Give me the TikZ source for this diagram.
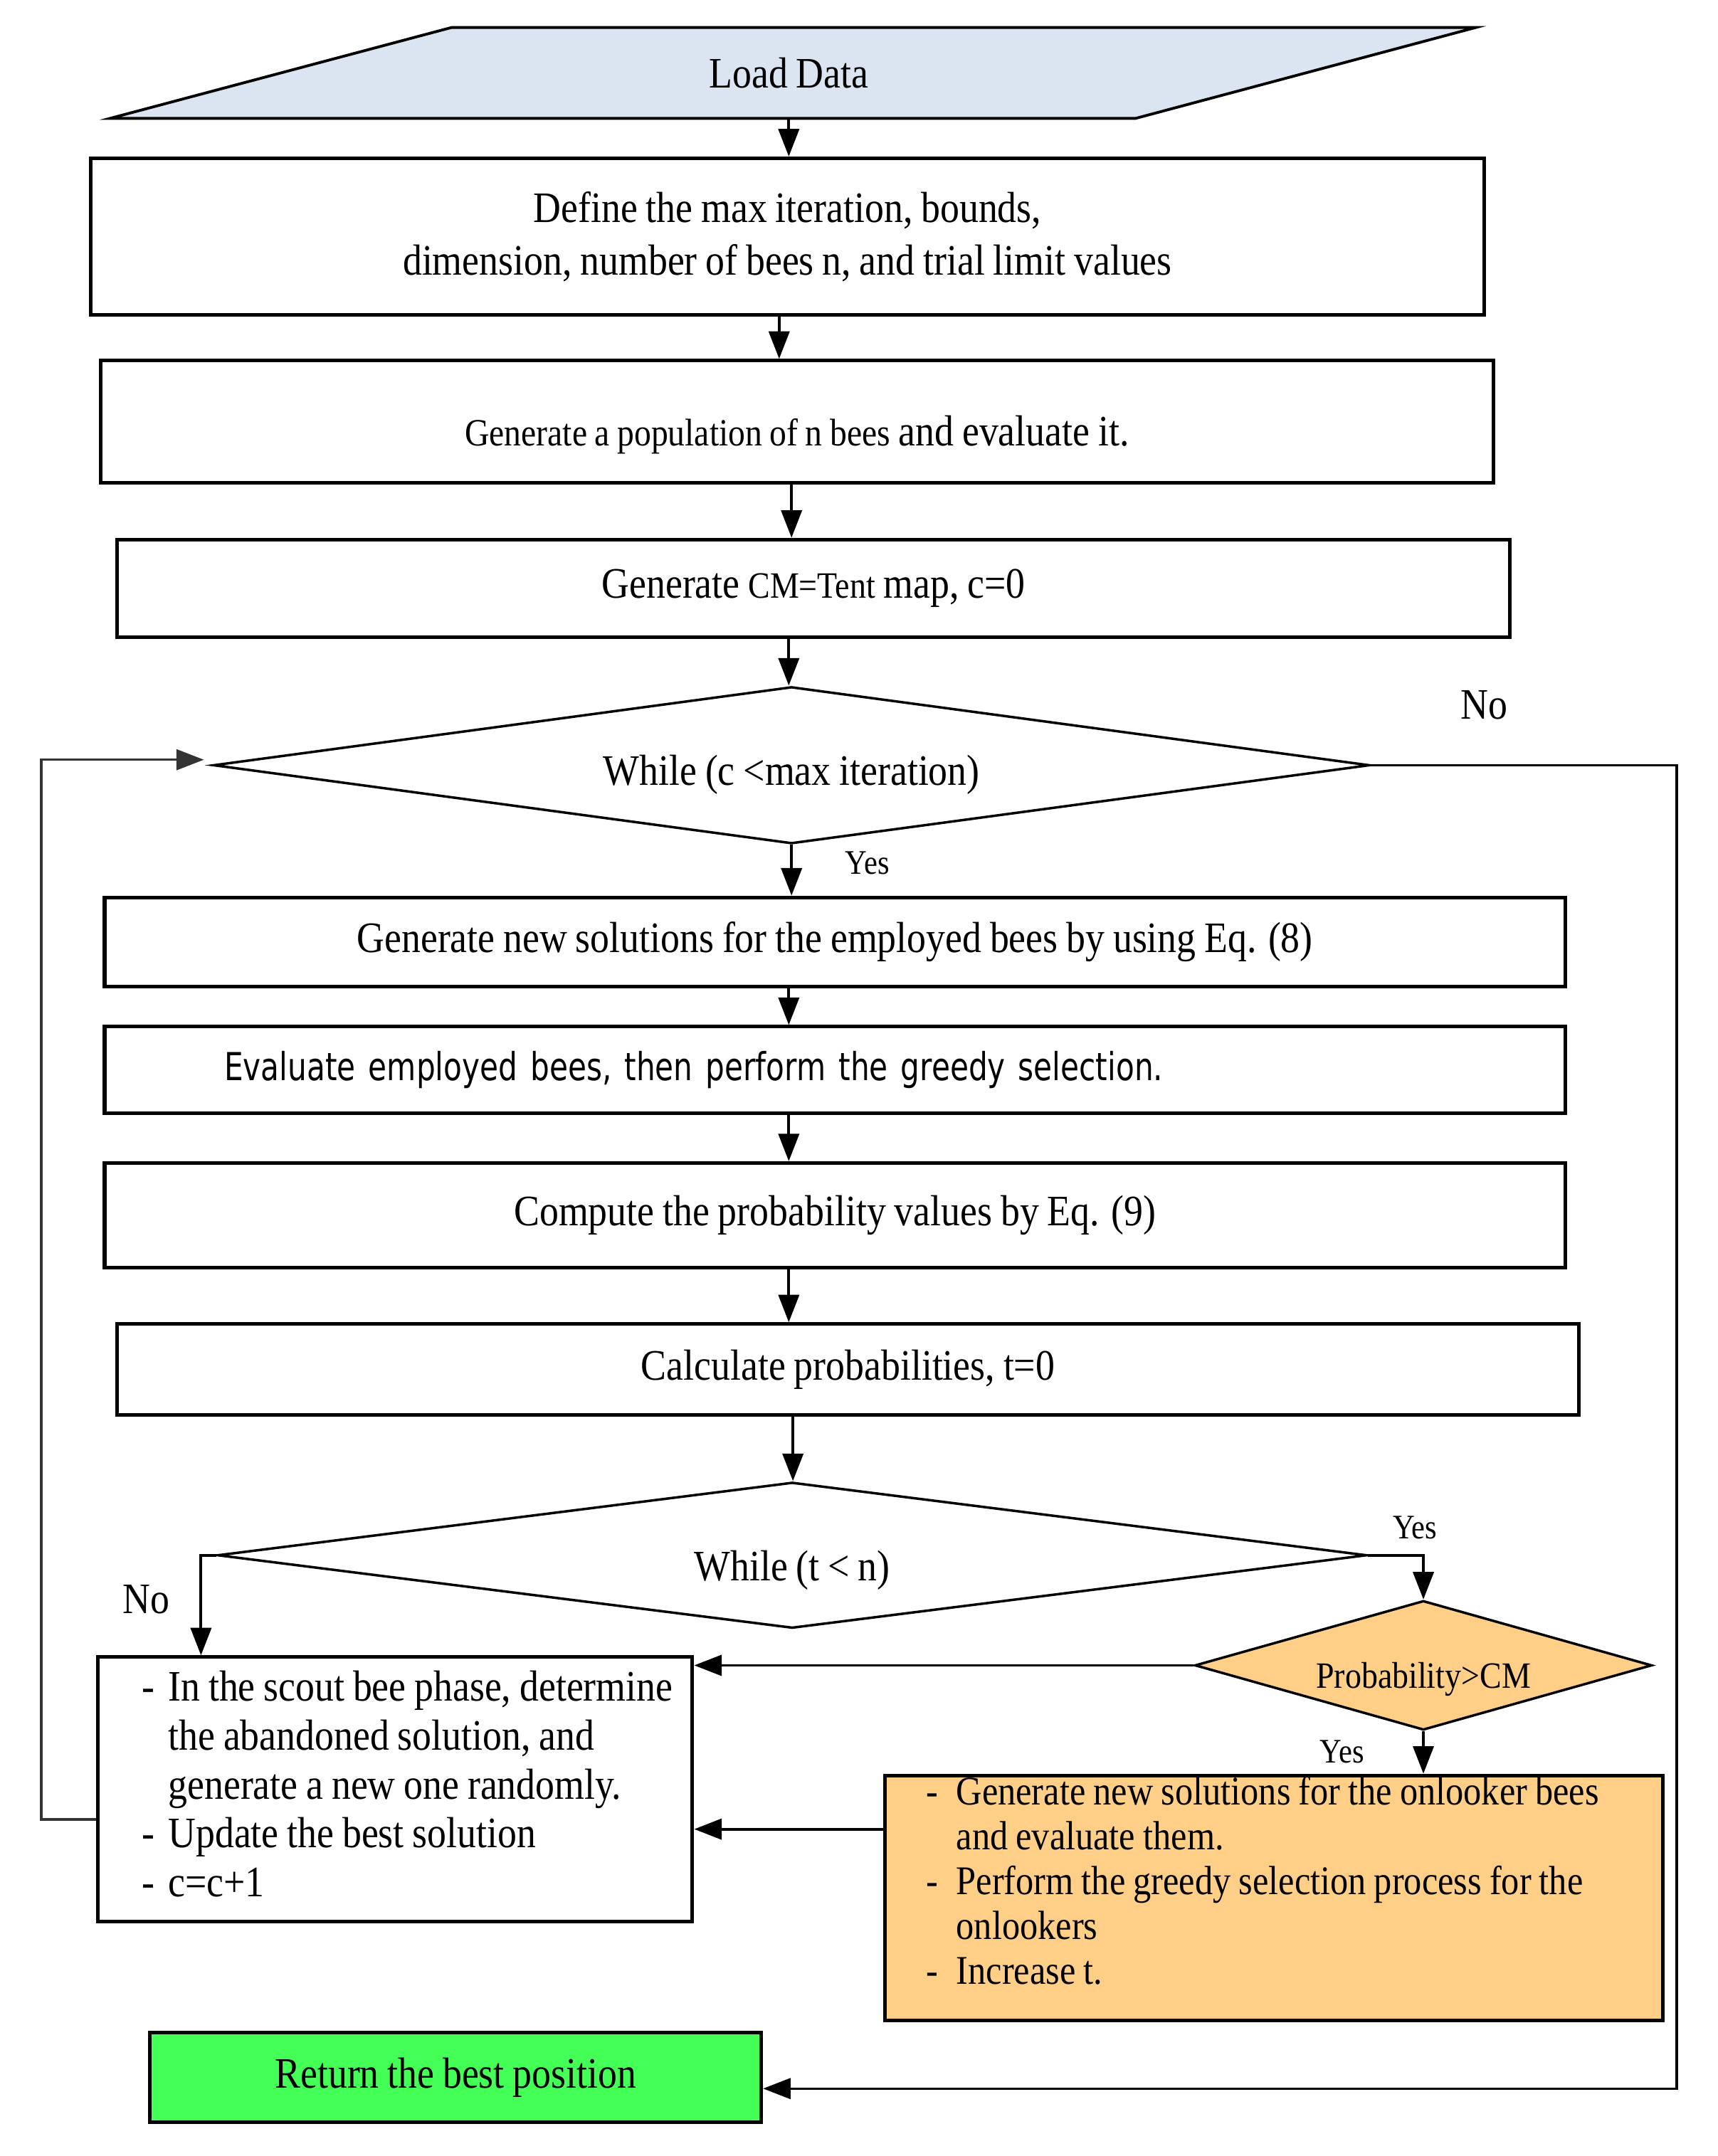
\documentclass[tikz,border=0pt]{standalone}
\usepackage{fontspec}
\setmainfont{Liberation Serif}[FakeStretch=0.88,WordSpace=0.88]
\newfontfamily\evalfont{DejaVu Sans}[FakeStretch=0.78,WordSpace=0.85]
\usetikzlibrary{shapes.geometric,arrows.meta}
\definecolor{ldblue}{RGB}{219,229,241}
\definecolor{onorange}{RGB}{255,207,136}
\definecolor{retgreen}{RGB}{68,255,85}
\newcommand{\movetext}[2]{\raisebox{#1}[\height][\depth]{#2}}
\begin{document}
\begin{tikzpicture}[x=0.5pt,y=-0.5pt,
  box/.style={draw, line width=1.3pt, inner sep=0pt, align=center},
  dia/.style={draw, diamond, line width=0.9pt, inner sep=0pt},
  arr/.style={-{Triangle[length=10pt,width=7.5pt]}, line width=1pt},
  lbl/.style={inner sep=0pt, font=\fontsize{12.5}{14}\selectfont},
  txt/.style={font=\fontsize{15.8}{19}\selectfont}
]
\useasboundingbox (0,0) rectangle (1248,1566.5);
\tikzset{every node/.append style={txt}}

% Load data
\draw[fill=ldblue, line width=1pt] (328,20) -- (1072,20) -- (825,86) -- (80,86) -- cycle;
\node[inner sep=0pt, minimum height=33pt] (ld) at (573,53) {Load Data};

% boxes
\node[box, minimum width=506pt, minimum height=57pt] (b2) at (572,172)
  {Define the max iteration, bounds,\\ dimension, number of bees n, and trial limit values};
\node[box, minimum width=506pt, minimum height=44.5pt] (b3) at (579,306.5)
  {\movetext{-4.75pt}{{\fontsize{14}{16}\selectfont Generate a population of n bees} and evaluate it.}};
\node[box, minimum width=506pt, minimum height=35.5pt] (b4) at (591,427.5)
  {Generate {\fontsize{13.5}{16}\selectfont CM=Tent} map, c=0};

\node[dia, aspect=7.37, minimum width=420pt, minimum height=57pt] (d1) at (575,556)
  {\movetext{-3.5pt}{While (c <max iteration)}};

\node[box, minimum width=530.5pt, minimum height=32.5pt] (b6) at (606.5,684.5)
  {Generate new solutions for the employed bees by using Eq. (8)};
\node[box, minimum width=530.5pt, minimum height=31.5pt, text width=443.5pt, inner xsep=43.5pt, align=left,
  font=\evalfont\fontsize{14}{16}\selectfont] (b7) at (606.5,777.5)
  {Evaluate employed bees, then perform the greedy selection.};
\node[box, minimum width=530.5pt, minimum height=38pt] (b8) at (606.5,883)
  {Compute the probability values by Eq. (9)};
\node[box, minimum width=531pt, minimum height=33pt] (b9) at (616,995)
  {Calculate probabilities, t=0};

\node[dia, aspect=7.88, minimum width=417.5pt, minimum height=53pt] (d2) at (575.5,1130)
  {\movetext{-5.5pt}{While (t < n)}};

\node[dia, fill=onorange, aspect=3.53, minimum width=166pt, minimum height=47pt,
  font=\fontsize{13.5}{15}\selectfont] (d3) at (1034,1210)
  {\movetext{-5pt}{Probability>CM}};

\node[box, minimum width=216pt, minimum height=96pt, text width=216pt, align=flush left,
  font=\fontsize{15.8}{17.75}\selectfont] (sc) at (287,1300)
  {\hspace*{16pt}\begin{tabular}{@{}l@{\hspace{5pt}}l@{}}
  - & In the scout bee phase, determine\\
    & the abandoned solution, and\\
    & generate a new one randomly.\\
  - & Update the best solution\\
  - & c=c+1
  \end{tabular}};

\node[box, fill=onorange, minimum width=282.5pt, minimum height=89pt, text width=282.5pt, align=flush left,
  font=\fontsize{14.8}{16.25}\selectfont] (on) at (925.5,1379)
  {\hspace*{15pt}\movetext{4.5pt}{\begin{tabular}{@{}l@{\hspace{6.5pt}}l@{}}
  - & Generate new solutions for the onlooker bees\\
    & and evaluate them.\\
  - & Perform the greedy selection process for the\\
    & onlookers\\
  - & Increase t.
  \end{tabular}}};

\node[box, fill=retgreen, minimum width=222pt, minimum height=32.5pt] (ret) at (331,1509.5)
  {Return the best position};

% labels
\node[inner sep=0pt] (no1) at (1078,512) {No};
\node[lbl] (yes1) at (630,627) {Yes};
\node[lbl] (yes2) at (1028,1110) {Yes};
\node[inner sep=0pt] (no2) at (106,1162) {No};
\node[lbl] (yes3) at (975,1273) {Yes};

% axis coordinates
\coordinate (ax) at (573,0);
\coordinate (axb) at (566,0);
\coordinate (axc) at (575,0);
\coordinate (axd) at (576,0);
\coordinate (rx) at (1218,0);
\coordinate (lx) at (30,0);
\coordinate (nx) at (146,0);
\coordinate (scw) at ([yshift=-11pt]sc.west);
\coordinate (d1w) at ([shift={(-3pt,2pt)}]d1.west);
\coordinate (onw) at ([yshift=25pt]on.west);
\coordinate (rete) at ([yshift=-4pt]ret.east);

% connectors
\draw[arr] (ld.south) -- (ld.south |- b2.north);
\draw[arr] (b2.south -| axb) -- (b3.north -| axb);
\draw[arr] (b3.south -| axc) -- (b4.north -| axc);
\draw[arr] (b4.south -| ax) -- (d1.north -| ax);
\draw[arr] (d1.south -| axc) -- (b6.north -| axc);
\draw[arr] (b6.south -| ax) -- (b7.north -| ax);
\draw[arr] (b7.south -| ax) -- (b8.north -| ax);
\draw[arr] (b8.south -| ax) -- (b9.north -| ax);
\draw[arr] (b9.south -| axd) -- (d2.north -| axd);
\draw[arr, line width=0.9pt] (d1.east) -- (d1.east -| rx) |- (rete);
\draw[arr, draw=black!80, line width=0.9pt] (scw) -- (scw -| lx) |- (d1w);
\draw[arr] (d2.west) -| (sc.north -| nx);
\draw[arr] (d2.east) -| (d3.north);
\draw[arr] (d3.west) -- (d3.west -| sc.east);
\draw[arr] (d3.south) -- (d3.south |- on.north);
\draw[arr] (onw) -- (onw -| sc.east);
\end{tikzpicture}
\end{document}
